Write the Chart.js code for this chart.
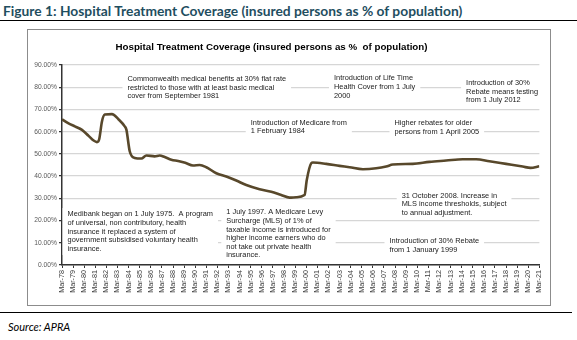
<!DOCTYPE html>
<html>
<head>
<meta charset="utf-8">
<script src="https://cdn.jsdelivr.net/npm/chart.js@4"></script>
<style>
  body { margin: 0; width: 577px; height: 340px; position: relative; background: #fff; overflow: hidden; }
  #fig-title { position: absolute; left: 3px; top: 3px; font: bold 13.8px/16px Lato, sans-serif; color: #1f4e5f; white-space: nowrap; }
  .rule { position: absolute; left: 0; height: 0; border-top: 1.5px solid #000; }
  #box { position: absolute; left: 27px; top: 29px; width: 522px; height: 275px; border: 1px solid #8c8c8c; }
  #chart-title { position: absolute; left: 0; top: 10.5px; width: 487px; text-align: center; font: bold 9.75px/11px "Liberation Sans", Arial, sans-serif; color: #000; white-space: nowrap; }
  #source { position: absolute; left: 8px; top: 320px; font: italic 11px Lato, sans-serif; color: #000; }
</style>
</head>
<body>
<div id="fig-title">Figure 1: Hospital Treatment Coverage (insured persons as % of population)</div>
<div class="rule" style="top:20px; width:577px;"></div>
<div id="box">
  <canvas id="coverage-chart" width="522" height="275"></canvas>
  <div id="chart-title">Hospital Treatment Coverage (insured persons as %&nbsp; of population)</div>
</div>
<div class="rule" style="top:312px; width:572px;"></div>
<div id="source">Source: APRA</div>

<script>
// Coverage (year as decimal, % of population)
const years = [1978.0, 1978.55, 1979.2, 1979.8, 1980.4, 1980.85, 1981.15, 1981.35, 1981.6, 1981.85,
    1982.5, 1983.1, 1983.65, 1983.8, 1984.1, 1984.55, 1985.15, 1985.6, 1986.35, 1986.8,
    1987.25, 1987.85, 1988.45, 1989.1, 1989.8, 1990.4, 1991.0, 1991.9, 1992.8, 1993.7,
    1994.6, 1995.8, 1996.85, 1997.75, 1998.5, 1999.1, 1999.85, 2000.05, 2000.45, 2000.6,
    2001.8, 2003.0, 2003.9, 2005.1, 2006.3, 2007.2, 2007.8, 2009.6, 2011.1, 2012.6,
    2014.1, 2015.3, 2016.5, 2018.0, 2019.5, 2020.2, 2021.0];
const coverage = [65.6, 63.8, 62.3, 60.8, 58.1, 56.0, 55.3, 56.6, 64.6, 67.7,
    67.9, 65.5, 62.4, 60.9, 51.2, 48.2, 47.9, 49.3, 48.9, 49.3,
    48.6, 47.4, 46.8, 46.0, 44.8, 45.0, 44.0, 41.3, 39.8, 38.0,
    36.0, 34.1, 33.0, 31.5, 30.3, 30.5, 31.5, 38.3, 45.8, 46.1,
    45.5, 44.6, 44.0, 43.1, 43.5, 44.3, 45.2, 45.5, 46.4, 47.0,
    47.6, 47.6, 46.7, 45.5, 44.3, 43.7, 44.4];

// Tick labels
const firstYear = 1978;
const lastYear = 2021;
const yTicks = [0, 10, 20, 30, 40, 50, 60, 70, 80, 90];

// Policy notes, anchored at (year, %) of their first line
const notes = [
    { year: 1983.9, pct: 83.7, lines: ['Commonwealth medical benefits at 30% flat rate', 'restricted to those with at least basic medical', 'cover from September 1981'] },
    { year: 2002.5, pct: 84.0, lines: ['Introduction of Life Time', 'Health Cover from 1 July', '2000'] },
    { year: 2014.4, pct: 81.8, lines: ['Introduction of 30%', 'Rebate means testing', 'from 1 July 2012'] },
    { year: 1995.0, pct: 64.0, lines: ['Introduction of Medicare from', '1 February 1984'] },
    { year: 2007.95, pct: 63.8, lines: ['Higher rebates for older', 'persons from 1 April 2005'] },
    { year: 1978.5, pct: 22.8, lines: ['Medibank began on 1 July 1975.  A program', 'of universal, non contributory, health', 'insurance it replaced a system of', 'government subsidised voluntary health', 'insurance.'] },
    { year: 1992.8, pct: 23.7, lines: ['1 July 1997. A Medicare Levy', 'Surcharge (MLS) of 1% of', 'taxable income is introduced for', 'higher income earners who do', 'not take out private health', 'insurance.'] },
    { year: 2008.6, pct: 31.2, lines: ['31 October 2008. Increase in', 'MLS income thresholds, subject', 'to annual adjustment.'] },
    { year: 2007.5, pct: 10.8, lines: ['Introduction of 30% Rebate', 'from 1 January 1999'] }
];

// draws the notes on white boxes over the gridlines
const notesPlugin = {
    id: 'notes',
    beforeDatasetsDraw(chart) {
        const ctx = chart.ctx;
        const xs = chart.scales.x, ys = chart.scales.y;
        const lh = 8.6;
        ctx.save();
        ctx.font = '7.4px "Liberation Sans", Arial, sans-serif';
        ctx.textBaseline = 'middle';
        notes.forEach(n => {
            const x = xs.getPixelForValue(n.year);
            const y = ys.getPixelForValue(n.pct);
            const w = Math.max(...n.lines.map(l => ctx.measureText(l).width));
            ctx.fillStyle = '#fff';
            ctx.fillRect(x - 5, y - lh / 2 - 2, w + 10, n.lines.length * lh + 4);
            ctx.fillStyle = '#1a1a1a';
            n.lines.forEach((l, i) => ctx.fillText(l, x, y + i * lh));
        });
        ctx.restore();
    }
};

const ctx = document.getElementById('coverage-chart').getContext('2d');
new Chart(ctx, {
    type: 'line',
    data: {
        datasets: [{
            data: years.map((y, i) => ({ x: y, y: coverage[i] })),
            borderColor: '#58482b',
            borderWidth: 2.6,
            pointRadius: 0,
            cubicInterpolationMode: 'monotone',
            fill: false,
        }]
    },
    options: {
        responsive: false,
        animation: false,
        layout: { padding: { top: 35, right: 10, left: 0, bottom: 0 } },
        plugins: { legend: { display: false }, tooltip: { enabled: false } },
        scales: {
            x: {
                type: 'linear',
                min: firstYear,
                max: lastYear,
                afterBuildTicks: s => { s.ticks = []; for (let y = firstYear; y <= lastYear; y++) s.ticks.push({ value: y }); },
                afterFit: s => { s.height = 40; },
                grid: { drawOnChartArea: false, tickLength: 3, tickColor: '#333', lineWidth: 1 },
                border: { color: '#333', width: 1.5 },
                ticks: {
                    minRotation: 90, maxRotation: 90, autoSkip: false, padding: 2,
                    color: '#404040',
                    font: { family: '"Liberation Sans", Arial, sans-serif', size: 7.2 },
                    callback: v => 'Mar-' + String(v).slice(2)
                }
            },
            y: {
                min: 0,
                max: 90,
                afterBuildTicks: s => { s.ticks = yTicks.map(v => ({ value: v })); },
                afterFit: s => { s.width = 34; },
                grid: { color: '#d6d6d6', lineWidth: 1.3, tickLength: 3, tickColor: '#333' },
                border: { color: '#333', width: 1.5 },
                ticks: {
                    padding: 2,
                    color: '#595959',
                    font: { family: '"Liberation Sans", Arial, sans-serif', size: 6.7 },
                    callback: v => v.toFixed(2) + '%'
                }
            }
        }
    },
    plugins: [notesPlugin]
});
</script>
</body>
</html>
